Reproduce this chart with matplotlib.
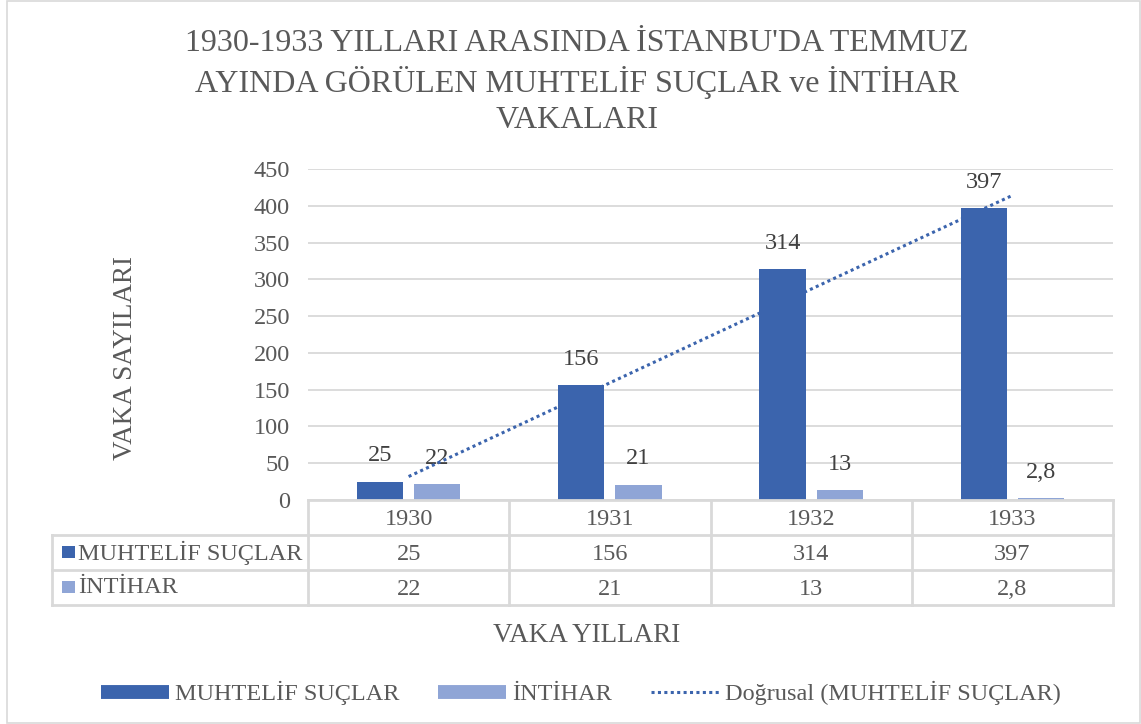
import numpy as np
import matplotlib
matplotlib.use("Agg")
import matplotlib.pyplot as plt
from matplotlib.lines import Line2D
from matplotlib.patches import Rectangle

plt.rcParams['font.family'] = ['Liberation Serif', 'DejaVu Serif']

years = ["1930", "1931", "1932", "1933"]
suclar = [25, 156, 314, 397]
intihar = [22, 21, 13, 2.8]
series_names = ["MUHTELİF SUÇLAR", "İNTİHAR"]
trend_name = "Doğrusal (MUHTELİF SUÇLAR)"
title = "1930-1933 YILLARI ARASINDA İSTANBU'DA TEMMUZ\nAYINDA GÖRÜLEN MUHTELİF SUÇLAR ve İNTİHAR\nVAKALARI"

DARK = "#3B64AD"
LIGHT = "#8FA5D6"
TXT = "#595959"
GRID = "#D9D9D9"
FS = 17.5

def fmt(v):
    # Turkish decimal comma
    return f"{v:g}".replace(".", ",")

W, H = 1141, 724
fig = plt.figure(figsize=(W / 100, H / 100), dpi=100, facecolor="white")

def box(x0, y0, x1, y1):
    return [x0 / W, 1 - y1 / H, (x1 - x0) / W, (y1 - y0) / H]

# outer chart border
fig.patches.append(Rectangle((7 / W, 1 / H), (W - 8) / W, (H - 2) / H, transform=fig.transFigure,
                             fill=False, edgecolor=GRID, lw=1.2))

ax = fig.add_axes(box(308, 169, 1113, 500))
x = np.arange(len(years))
bw = 0.23
ax.bar(x - 0.142, suclar, bw, color=DARK, zorder=3)
ax.bar(x + 0.142, intihar, bw, color=LIGHT, zorder=3)

# linear trend of the crime series
k, b = np.polyfit(x, suclar, 1)
ax.plot(x, k * x + b, ls=(0, (1, 1.1)), color=DARK, lw=2.2, zorder=4)

for xi, v in zip(x, suclar):
    ax.annotate(fmt(v), (xi - 0.142, v), xytext=(0, 18.5), textcoords="offset points",
                ha="center", va="center", fontsize=FS, color="#404040")
for xi, v in zip(x, intihar):
    ax.annotate(fmt(v), (xi + 0.142, v), xytext=(0, 18.5), textcoords="offset points",
                ha="center", va="center", fontsize=FS, color="#404040")

ax.set_xlim(-0.5, 3.5)
ax.set_ylim(0, 450)
ax.set_yticks(range(0, 451, 50))
ax.yaxis.grid(True, color=GRID, lw=1.3, zorder=0)
ax.set_xticks([])
for s in ax.spines.values():
    s.set_visible(False)
ax.tick_params(axis="y", length=0, pad=13, labelsize=FS, labelcolor=TXT)

# data table under the plot
tax = fig.add_axes(box(52, 500, 1113, 605))
px = 805 / 4          # pixels per category
left = -0.5 - 256 / px
tax.set_xlim(left, 3.5)
tax.set_ylim(3, 0)
tax.axis("off")
lk = dict(color=GRID, lw=2, clip_on=False)
tax.plot([-0.5, 3.5], [0, 0], **lk)
for r in (1, 2, 3):
    tax.plot([left, 3.5], [r, r], **lk)
for c in np.arange(-0.5, 3.6, 1):
    tax.plot([c, c], [0, 3], **lk)
tax.plot([left, left], [1, 3], **lk)
for xi, yr in zip(x, years):
    tax.text(xi, 0.55, yr, ha="center", va="center", fontsize=FS, color=TXT)
for row, (name, vals, col) in enumerate(zip(series_names, [suclar, intihar], [DARK, LIGHT]), start=1):
    # legend key square in front of the row label
    tax.add_patch(Rectangle((left + 10 / px, row + 0.3), 13 / px, 0.36, color=col, lw=0))
    tax.text(left + 26 / px, row + 0.5, name, ha="left", va="center", fontsize=FS, color=TXT)
    for xi, v in zip(x, vals):
        tax.text(xi, row + 0.55, fmt(v), ha="center", va="center", fontsize=FS, color=TXT)

fig.text(577 / W, 1 - 82 / H, title, ha="center", va="center", fontsize=23,
         color=TXT, linespacing=1.33)
fig.text(125 / W, 1 - 358 / H, "VAKA SAYILARI", ha="center", va="center",
         rotation=90, fontsize=19.5, color=TXT)
fig.text(587 / W, 1 - 636 / H, "VAKA YILLARI", ha="center", va="center",
         fontsize=19.5, color=TXT)

handles = [Line2D([], [], color=DARK, lw=10, solid_capstyle="butt"),
           Line2D([], [], color=LIGHT, lw=10, solid_capstyle="butt"),
           Line2D([], [], color=DARK, lw=2.2, ls=(0, (1, 1.1)))]
fig.legend(handles, series_names + [trend_name], loc="center",
           bbox_to_anchor=(581 / W, 1 - 693 / H), ncol=3, frameon=False,
           fontsize=FS, labelcolor=TXT, handlelength=2.8, handletextpad=0.25,
           columnspacing=1.6)

fig.savefig("out.png", dpi=100, facecolor="white")
